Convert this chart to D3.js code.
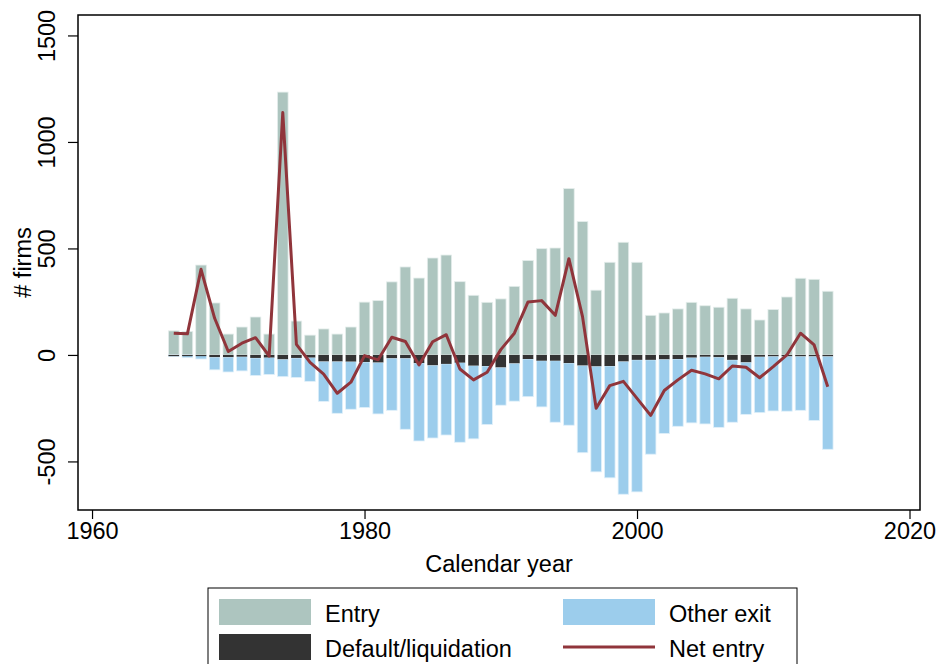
<!DOCTYPE html>
<html>
<head>
<meta charset="utf-8">
<script src="https://cdn.jsdelivr.net/npm/d3@7"></script>
<style>
  body { margin: 0; background: #fff; }
  text { font-family: "Liberation Sans", Arial, sans-serif; fill: #000; }
</style>
</head>
<body>
<div id="chart"></div>
<script>
var svgWidth = 937;
var svgHeight = 664;

// plot region (the black frame)
var frame = { left: 78, right: 920, top: 15, bottom: 510 };
var fontSize = "23.5px";

// data
var years = d3.range(1966, 2015);
var entry = [113, 110, 422, 244, 98, 131, 178, 98, 1234, 159,
  93, 122, 98, 131, 248, 255, 343, 413, 361, 455,
  469, 344, 280, 247, 263, 322, 443, 499, 502, 781,
  626, 304, 435, 529, 435, 186, 197, 216, 247, 231,
  224, 266, 216, 164, 213, 272, 360, 355, 299];
var defaults = [0, 0, 3, 10, 10, 8, 14, 12, 20, 14,
  12, 30, 30, 31, 33, 35, 15, 15, 38, 48,
  42, 36, 50, 52, 58, 39, 19, 27, 27, 38,
  49, 53, 52, 30, 23, 23, 20, 19, 12, 8,
  10, 23, 34, 8, 6, 6, 6, 6, 6];
var otherExit = [8, 13, 16, 60, 70, 67, 83, 80, 82, 92,
  112, 188, 244, 224, 214, 242, 245, 334, 366, 342,
  334, 374, 344, 275, 178, 178, 177, 217, 289, 292,
  410, 496, 525, 624, 620, 443, 349, 316, 307, 316,
  330, 293, 245, 263, 257, 258, 254, 302, 437];
var netEntry = [102, 99, 402, 172, 16, 55, 81, -5, 1138, 50,
  -35, -90, -180, -128, -3, -23, 83, 63, -47, 62,
  95, -66, -117, -81, 25, 102, 249, 255, 186, 452,
  180, -250, -144, -124, -204, -284, -167, -117, -72, -89,
  -112, -52, -58, -107, -55, 0, 102, 47, -149];

var xTicks = [1960, 1980, 2000, 2020];
var yTicks = [-500, 0, 500, 1000, 1500];

var colEntry = "#adc5bf";
var colDefault = "#333333";
var colOther = "#9ccdec";
var colNet = "#90353b";

var rows = years.map(function(y, i) {
  return { year: y, entry: entry[i], def: defaults[i], other: otherExit[i], net: netEntry[i] };
});

var svg = d3.select("#chart")
  .append("svg")
  .attr("width", svgWidth)
  .attr("height", svgHeight);

var x = d3.scaleLinear()
  .domain([1958.97, 2020.77])
  .range([frame.left, frame.right]);

var y = d3.scaleLinear()
  .domain([-728, 1596])
  .range([frame.bottom, frame.top]);

var barW = 10.6;

// bars
var bars = svg.append("g");

bars.selectAll(".entry")
  .data(rows)
  .enter()
  .append("rect")
  .attr("x", d => x(d.year) - barW / 2)
  .attr("y", d => y(d.entry))
  .attr("width", barW)
  .attr("height", d => y(0) - y(d.entry))
  .attr("fill", colEntry)
  .attr("stroke", "#e4edeb")
  .attr("stroke-width", 0.8);

bars.selectAll(".other")
  .data(rows)
  .enter()
  .append("rect")
  .attr("x", d => x(d.year) - barW / 2)
  .attr("y", d => y(-d.def))
  .attr("width", barW)
  .attr("height", d => y(-d.def - d.other) - y(-d.def))
  .attr("fill", colOther)
  .attr("stroke", "#e0f0fa")
  .attr("stroke-width", 0.8);

bars.selectAll(".def")
  .data(rows)
  .enter()
  .append("rect")
  .attr("x", d => x(d.year) - barW / 2)
  .attr("y", y(0))
  .attr("width", barW)
  .attr("height", d => Math.max(y(-d.def) - y(0), 1.2))
  .attr("fill", colDefault);

// net entry line
var line = d3.line()
  .x(d => x(d.year))
  .y(d => y(d.net));

svg.append("path")
  .datum(rows)
  .attr("d", line)
  .attr("fill", "none")
  .attr("stroke", colNet)
  .attr("stroke-width", 3)
  .attr("stroke-linejoin", "round");

// frame
svg.append("rect")
  .attr("x", frame.left)
  .attr("y", frame.top)
  .attr("width", frame.right - frame.left)
  .attr("height", frame.bottom - frame.top)
  .attr("fill", "none")
  .attr("stroke", "#000")
  .attr("stroke-width", 1.5);

// x axis
var xAxis = svg.append("g")
  .attr("transform", `translate(0, ${frame.bottom})`)
  .call(d3.axisBottom(x).tickValues(xTicks).tickFormat(d => String(d)).tickSize(9).tickPadding(3));
xAxis.select(".domain").remove();
xAxis.selectAll("line").attr("stroke", "#000").attr("stroke-width", 1.2);
xAxis.selectAll("text")
  .style("font-size", fontSize)
  .style("font-family", "'Liberation Sans', Arial, sans-serif");

// y axis, labels turned sideways as in the original (plain hyphen for minus)
var yAxis = svg.append("g")
  .attr("transform", `translate(${frame.left}, 0)`)
  .call(d3.axisLeft(y).tickValues(yTicks).tickFormat(d => String(d)).tickSize(10));
yAxis.select(".domain").remove();
yAxis.selectAll("line").attr("stroke", "#000").attr("stroke-width", 1.2);
yAxis.selectAll("text")
  .attr("x", null)
  .attr("dy", null)
  .attr("text-anchor", "middle")
  .attr("transform", "translate(-23, 0) rotate(-90)")
  .style("font-size", fontSize)
  .style("font-family", "'Liberation Sans', Arial, sans-serif");

// axis titles
svg.append("text")
  .attr("x", (frame.left + frame.right) / 2)
  .attr("y", 572)
  .attr("text-anchor", "middle")
  .style("font-size", fontSize)
  .text("Calendar year");

svg.append("text")
  .attr("transform", `translate(31, ${(frame.top + frame.bottom) / 2}) rotate(-90)`)
  .attr("text-anchor", "middle")
  .style("font-size", fontSize)
  .text("# firms");

// legend
var legend = svg.append("g");
legend.append("rect")
  .attr("x", 208)
  .attr("y", 588)
  .attr("width", 589)
  .attr("height", 90)
  .attr("fill", "#fff")
  .attr("stroke", "#000")
  .attr("stroke-width", 1);

var legendItems = [
  { label: "Entry", kind: "bar", color: colEntry, col: 0, row: 0 },
  { label: "Other exit", kind: "bar", color: colOther, col: 1, row: 0 },
  { label: "Default/liquidation", kind: "bar", color: colDefault, col: 0, row: 1 },
  { label: "Net entry", kind: "line", color: colNet, col: 1, row: 1 }
];

var colX = [219, 563];
var rowY = [599, 634];

legendItems.forEach(function(item) {
  var lx = colX[item.col];
  var ly = rowY[item.row];
  if (item.kind === "bar") {
    legend.append("rect")
      .attr("x", lx)
      .attr("y", ly)
      .attr("width", 92)
      .attr("height", 26)
      .attr("fill", item.color);
  } else {
    legend.append("line")
      .attr("x1", lx)
      .attr("x2", lx + 92)
      .attr("y1", ly + 13)
      .attr("y2", ly + 13)
      .attr("stroke", item.color)
      .attr("stroke-width", 3);
  }
  legend.append("text")
    .attr("x", lx + 106)
    .attr("y", ly + 23)
    .style("font-size", fontSize)
    .text(item.label);
});
</script>
</body>
</html>
